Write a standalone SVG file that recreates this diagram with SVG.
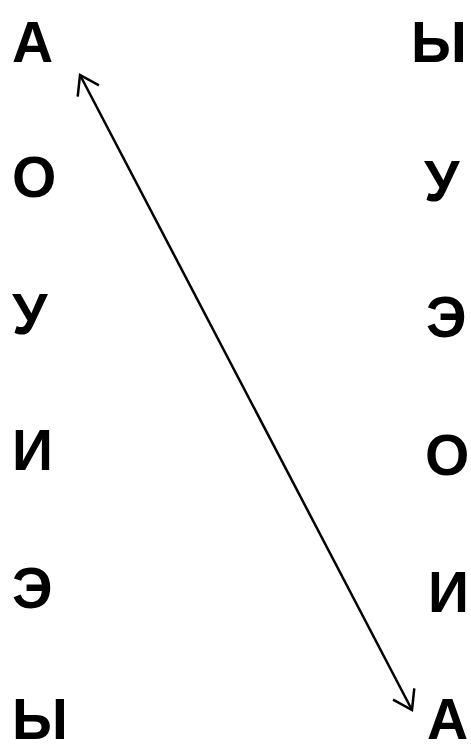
<svg xmlns="http://www.w3.org/2000/svg" width="471" height="751" viewBox="0 0 471 751">
<style>
text{font-family:"Liberation Sans",Arial,sans-serif;font-weight:bold;font-size:57px;fill:#000}
.c{fill:none;stroke:#000;stroke-width:2.5}
</style>
<defs>
<marker id="arr" viewBox="-20 -14 22 28" refX="0" refY="0" markerWidth="22" markerHeight="28" markerUnits="userSpaceOnUse" orient="auto-start-reverse">
<path d="M-18,-12 L0,0 L-18,12" fill="none" stroke="#000" stroke-width="2.5"/>
</marker>
</defs>
<rect width="471" height="751" fill="#fff"/>
<g id="L1"><text x="12" y="62">А</text></g>
<g id="L2"><text x="12" y="197">О</text></g>
<g id="L3"><text x="12" y="334">У</text></g>
<g id="L4"><text x="12" y="470">И</text></g>
<g id="L5"><text x="12" y="608">Э</text></g>
<g id="L6"><text x="12" y="739">Ы</text></g>
<g id="R1"><text x="411" y="62">Ы</text></g>
<g id="R2"><text x="424" y="201">У</text></g>
<g id="R3"><text x="426" y="337">Э</text></g>
<g id="R4"><text x="425" y="475">О</text></g>
<g id="R5"><text x="428" y="612">И</text></g>
<g id="R6"><text x="427" y="739">А</text></g>
<g id="connectors">
<line class="c" x1="80" y1="75" x2="412" y2="710" marker-start="url(#arr)" marker-end="url(#arr)"/>
</g>
</svg>
